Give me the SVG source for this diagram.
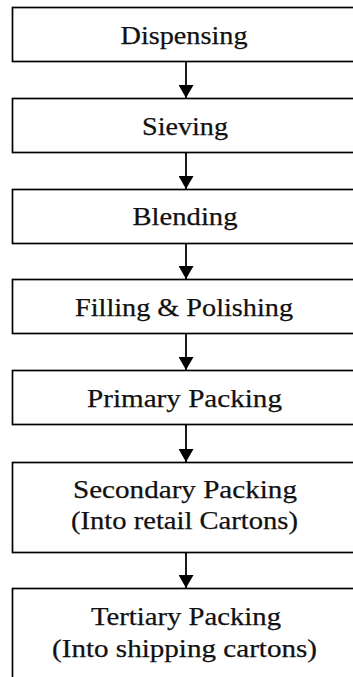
<svg xmlns="http://www.w3.org/2000/svg" width="353" height="677" viewBox="0 0 353 677">
  <style>
    .box { fill: #fff; stroke: #000; stroke-width: 1.7; }
    .lbl { font-family: "Liberation Serif", "Times New Roman", serif; font-size: 26px; fill: #111; stroke: #111; stroke-width: 0.25; text-anchor: middle; }
    .conn { stroke: #000; stroke-width: 1.8; fill: none; }
  </style>
  <defs>
    <marker id="arrow" viewBox="0 0 13 15" refX="13" refY="7.5" markerWidth="13" markerHeight="15" markerUnits="userSpaceOnUse" orient="auto">
      <path d="M0,0 L13,7.5 L0,15 Z" fill="#000"/>
    </marker>
  </defs>
  <rect width="353" height="677" fill="#fff"/>

  <!-- process steps -->
  <g id="dispensing">
    <rect class="box" x="12.5" y="7.5" width="360" height="54"/>
    <text class="lbl" x="184" y="44" textLength="127" lengthAdjust="spacingAndGlyphs">Dispensing</text>
  </g>
  <g id="sieving">
    <rect class="box" x="12.5" y="98.5" width="360" height="54"/>
    <text class="lbl" x="185" y="135" textLength="86" lengthAdjust="spacingAndGlyphs">Sieving</text>
  </g>
  <g id="blending">
    <rect class="box" x="12.5" y="189.5" width="360" height="54"/>
    <text class="lbl" x="185" y="225" textLength="105" lengthAdjust="spacingAndGlyphs">Blending</text>
  </g>
  <g id="filling">
    <rect class="box" x="12.5" y="279.5" width="360" height="54"/>
    <text class="lbl" x="184" y="316" textLength="218" lengthAdjust="spacingAndGlyphs">Filling &amp; Polishing</text>
  </g>
  <g id="primary-packing">
    <rect class="box" x="12.5" y="370.5" width="360" height="54"/>
    <text class="lbl" x="184.5" y="407" textLength="195" lengthAdjust="spacingAndGlyphs">Primary Packing</text>
  </g>
  <g id="secondary-packing">
    <rect class="box" x="12.5" y="462.5" width="360" height="90"/>
    <text class="lbl" x="185" y="498" textLength="224" lengthAdjust="spacingAndGlyphs">Secondary Packing</text>
    <text class="lbl" x="184.5" y="529" textLength="227" lengthAdjust="spacingAndGlyphs">(Into retail Cartons)</text>
  </g>
  <g id="tertiary-packing">
    <rect class="box" x="12.5" y="588.5" width="360" height="120"/>
    <text class="lbl" x="186" y="625" textLength="190" lengthAdjust="spacingAndGlyphs">Tertiary Packing</text>
    <text class="lbl" x="184.5" y="657" textLength="265" lengthAdjust="spacingAndGlyphs">(Into shipping cartons)</text>
  </g>

  <!-- connectors -->
  <g id="connectors">
    <line class="conn" x1="186" y1="62" x2="186" y2="98" marker-end="url(#arrow)"/>
    <line class="conn" x1="186" y1="153" x2="186" y2="189" marker-end="url(#arrow)"/>
    <line class="conn" x1="186" y1="244" x2="186" y2="279" marker-end="url(#arrow)"/>
    <line class="conn" x1="186" y1="334" x2="186" y2="370" marker-end="url(#arrow)"/>
    <line class="conn" x1="186" y1="425" x2="186" y2="462" marker-end="url(#arrow)"/>
    <line class="conn" x1="186" y1="553" x2="186" y2="588" marker-end="url(#arrow)"/>
  </g>
</svg>
